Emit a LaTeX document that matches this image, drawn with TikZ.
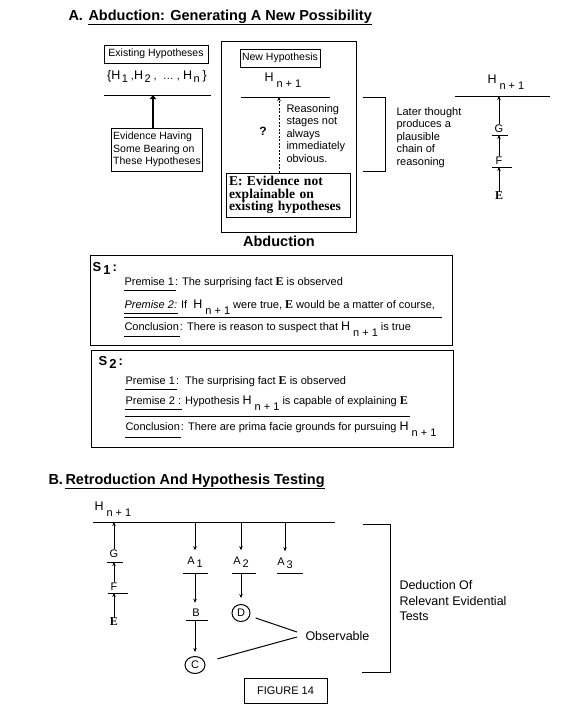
\documentclass[tikz,border=0pt]{standalone}
\usepackage{fontspec}
\setmainfont{Liberation Sans}
\newfontfamily\nyfont{Liberation Serif}
\usetikzlibrary{arrows.meta,shapes.geometric}
\newcommand{\HH}[1]{{\fontsize{12.5}{13}\selectfont H}\hspace{3pt}\raisebox{-5.5pt}{#1}}
\newcommand{\HL}[1]{{\fontsize{12.5}{13}\selectfont H}\hspace{1.5pt}\raisebox{-3pt}{#1}}
\newcommand{\EE}{{\nyfont\bfseries\fontsize{12}{13}\selectfont E}}
\newcommand{\sbx}[1]{\raisebox{-3pt}{#1}}
\begin{document}
\begin{tikzpicture}[x=1pt,y=-1pt, line width=1pt,
 every node/.style={inner sep=0pt, font=\fontsize{11}{12.5}\selectfont},
 txt/.style={anchor=west},
 rest/.style={anchor=base west},
 para/.style={anchor=north west, align=left},
 ttl/.style={font=\fontsize{14.5}{16}\selectfont\bfseries},
 frame/.style={draw, line width=1pt},
 arr/.style={-{Stealth[length=4pt,width=3.5pt]}},
 bigarr/.style={line width=2.2pt,-{Triangle[length=4pt,width=6pt]}},
 big/.style={font=\fontsize{12.5}{15.5}\selectfont}
]
\useasboundingbox (0,0) rectangle (576,720);

% ---------- Title A
\coordinate (tAx) at (88,0);
\node[txt, ttl] (tA1) at (68,16) {A.};
\node[ttl, rest] (tA2) at (tA1.base -| tAx) {Abduction: Generating A New Possibility};
\draw ([yshift=-4pt]tA2.base west) -- ([yshift=-4pt]tA2.base east);

% ---------- Existing hypotheses
\node[frame, minimum width=104pt, minimum height=18pt, font=\fontsize{10.5}{12}\selectfont] (exist) at (156,54) {Existing Hypotheses};
\node (set) at (157,76) {{\fontsize{12.5}{13}\selectfont\{}\HL{1} ,\HL{2} ,\ \ \dots\ ,\ \HL{n} {\fontsize{12.5}{13}\selectfont\}}};
\draw (104,95) -- (211,95);
\coordinate (L1) at (153,95);
\node[frame, minimum width=91pt, minimum height=43pt, align=left,
      font=\fontsize{10.5}{12.5}\selectfont] (evid) at (157,149.5) {Evidence Having\\Some Bearing on\\These Hypotheses};
\draw[bigarr] (L1 |- evid.north) -- (L1);

% ---------- Abduction box
\node[frame, minimum width=135pt, minimum height=191pt] (bigbox) at (288.5,136.5) {};
\node[frame, minimum width=80pt, minimum height=18pt, font=\fontsize{10.5}{12}\selectfont] (newh) at (280,58) {New Hypothesis};
\node[txt] (hm) at (264,80) {\HH{n + 1}};
\draw (241,97) -- (330,97);
\coordinate (L2) at (279,97);
\node[frame, minimum width=124pt, minimum height=44pt, align=left, text width=118pt,
      font=\nyfont\bfseries\fontsize{13.5}{12.5}\selectfont] (ebox) at (288,195)
      {E: Evidence not\\explainable on\\existing hypotheses};
\draw[arr, dash pattern=on 2pt off 1.5pt] (L2 |- ebox.north) -- (L2);
\node[font=\fontsize{12}{13}\selectfont\bfseries] (q) at (263,131) {?};
\node[para] (reason) at (286,104) {Reasoning\\stages not\\always\\immediately\\obvious.};
\node[ttl] (abd) at (279,241) {Abduction};

% bracket 1
\draw (363,97) -- (385,97) -- (385,171) -- (363,171);
\node[para] (later) at (396,107) {Later thought\\produces a\\plausible\\chain of\\reasoning};

% right chain
\node[txt] (hr) at (487,82) {\HH{n + 1}};
\draw (455,96) -- (550,96);
\coordinate (rH) at (499,96);
\node (rG) at (499,129) {G};
\draw (492,135) -- (508,135);
\coordinate (rGl) at (499,135);
\node (rF) at (499,161) {F};
\draw (492,167) -- (512,167);
\coordinate (rFl) at (499,167);
\node (rE) at (499,196) {\EE};
\draw[arr] (rE.north) -- (rFl);
\draw[arr, shorten <=1pt] (rF.north) -- (rGl);
\draw[arr, shorten <=1pt] (rG.north) -- (rH);

% ---------- S1
\node[frame, minimum width=362pt, minimum height=90pt] (s1) at (271,300) {};
\node[txt, font=\fontsize{13}{14}\selectfont\bfseries] (s1l) at (92,268) {S\,\sbx{1}\,:};
\node[txt] (s1p1) at (124,282) {Premise 1};
\node[rest] (s1p1r) at (s1p1.base east) {: The surprising fact \EE\ is observed};
\draw ([yshift=-4.5pt]s1p1.base west) -- ([yshift=-4.5pt,xshift=1pt]s1p1.base east);
\node[txt] (s1p2) at (124,305) {\textit{Premise 2:}};
\node[rest] (s1p2r) at (s1p2.base east) {\ If \ \HH{n + 1} were true, \EE\ would be a matter of course,};
\draw ([yshift=-4.5pt]s1p2.base west) -- ([yshift=-4.5pt]s1p2.base east);
\draw (124,317) -- (442,317);
\node[txt] (s1c) at (124,327) {Conclusion};
\node[rest] (s1cr) at (s1c.base east) {: There is reason to suspect that \HH{n + 1} is true};
\draw ([yshift=-5.5pt]s1c.base west) -- ([yshift=-5.5pt,xshift=1pt]s1c.base east);

% ---------- S2
\node[frame, minimum width=362pt, minimum height=97pt] (s2) at (272,398.5) {};
\node[txt, font=\fontsize{13}{14}\selectfont\bfseries] (s2l) at (98,362) {S\,\sbx{2}\,:};
\node[txt] (s2p1) at (125,381) {Premise 1};
\node[rest] (s2p1r) at (s2p1.base east) {:\ \ The surprising fact \EE\ is observed};
\draw ([yshift=-4.5pt]s2p1.base west) -- ([yshift=-4.5pt,xshift=1pt]s2p1.base east);
\node[txt] (s2p2) at (125,401) {Premise 2 :};
\node[rest] (s2p2r) at (s2p2.base east) {\ Hypothesis \HH{n + 1} is capable of explaining \EE};
\draw ([yshift=-4.5pt]s2p2.base west) -- ([yshift=-4.5pt]s2p2.base east);
\draw (125,416) -- (410,416);
\node[txt] (s2c) at (125,427) {Conclusion};
\node[rest] (s2cr) at (s2c.base east) {: There are prima facie grounds for pursuing \HH{n + 1}};
\draw ([yshift=-7pt]s2c.base west) -- ([yshift=-7pt,xshift=1pt]s2c.base east);

% ---------- Title B
\coordinate (tBx) at (65,0);
\node[txt, ttl] (tB1) at (48,480) {B.};
\node[ttl, rest] (tB2) at (tB1.base -| tBx) {Retroduction And Hypothesis Testing};
\draw ([yshift=-4pt]tB2.base west) -- ([yshift=-4pt]tB2.base east);

\node[txt] (hb) at (94,509) {\HH{n + 1}};
\draw (93,522) -- (335,522);

% left chain
\coordinate (lH) at (114,522);
\node (lG) at (114,554) {G};
\draw (107,562) -- (123,562);
\coordinate (lGl) at (114,562);
\node (lF) at (114,587) {F};
\draw (108,593) -- (128,593);
\coordinate (lFl) at (114,593);
\node (lE) at (114,622) {\EE};
\draw[arr] (lE.north) -- (lFl);
\draw[arr, shorten <=1pt] (lF.north) -- (lGl);
\draw[arr, shorten <=1pt] (lG.north) -- (lH);

% A branches
\coordinate (d1) at (195,522);
\coordinate (d2) at (241,522);
\coordinate (d3) at (285,522);
\node (A1) at (195,562) {A\,\sbx{1}};
\node (A2) at (241,562) {A\,\sbx{2}};
\node (A3) at (285,563) {A\,\sbx{3}};
\draw[arr, shorten >=6pt] (d1) -- (d1 |- A1.north);
\draw[arr, shorten >=6pt] (d2) -- (d2 |- A2.north);
\draw[arr, shorten >=6pt] (d3) -- (d3 |- A3.north);
\draw (183,573) -- (208,573);
\draw (232,573) -- (256,573);
\draw (277,573) -- (303,573);
\coordinate (a1l) at (195,573);
\coordinate (a2l) at (241,573);

\node (B) at (196,613) {B};
\draw (186,620) -- (208,620);
\coordinate (bl) at (195,620);
\node[draw, ellipse, minimum width=20pt, minimum height=17pt] (C) at (195,665) {C};
\node[draw, ellipse, minimum width=18pt, minimum height=17pt] (D) at (241,613) {D};
\draw[arr, shorten >=6pt] (a1l) -- (a1l |- B.north);
\draw[arr, shorten >=4pt] (bl) -- (C.north);
\draw[arr, shorten >=6pt] (a2l) -- (D.north);

\node[txt, big] (obs) at (305,636) {Observable};
\coordinate (o1) at (297,632);
\coordinate (o2) at (297,637);
\draw[shorten <=6pt] (D) -- (o1);
\draw[shorten <=13pt] (C) -- (o2);

% bracket B
\draw (363,524) -- (390,524) -- (390,672) -- (362,672);
\node[para, big] (ded) at (399,580) {Deduction Of\\Relevant Evidential\\Tests};

\node[frame, minimum width=83pt, minimum height=25pt] (fig) at (285.5,690.5) {FIGURE 14};
\end{tikzpicture}
\end{document}
